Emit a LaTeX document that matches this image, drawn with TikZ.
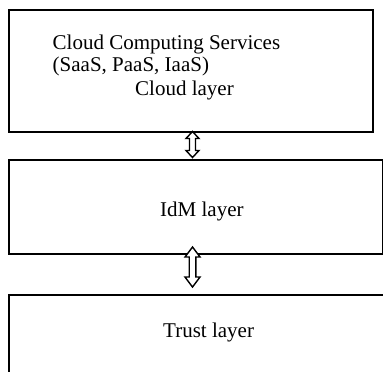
\documentclass[tikz,border=0pt]{standalone}
\usepackage{fontspec}
\setmainfont{Liberation Serif}
\usetikzlibrary{calc}
\tikzset{
  layerbox/.style={draw=black, line width=2pt, fill=none, inner sep=0pt, anchor=north west},
  txt/.style={inner sep=0pt, anchor=base west, font=\fontsize{21}{23}\selectfont},
  dblarrow/.style={draw=black, fill=white, line width=1.4pt, line join=miter}
}
\begin{document}
\begin{tikzpicture}[x=1pt,y=-1pt]
\useasboundingbox (0,0) rectangle (383,372);
\fill[white] (0,0) rectangle (383,372);
% boxes
\node[layerbox, minimum width=364pt, minimum height=121.5pt] (b1) at (8,9) {};
\node[layerbox, minimum width=373.5pt, minimum height=94.5pt] (b2) at (8,158.5) {};
\node[layerbox, minimum width=400pt, minimum height=120pt] (b3) at (8,293.5) {};
% texts
\node[txt] (t1) at (52.5,49) {Cloud Computing Services};
\node[txt] (t2) at (52.5,71.7) {(SaaS, PaaS, IaaS)};
\node[txt] (t3) at (135,95) {Cloud layer};
\node[txt] (t4) at (160,216) {IdM layer};
\node[txt] (t5) at (163,337) {Trust layer};
% arrow 1
\coordinate (a1t) at ($(b1.south west)+(184.5,-1)$);
\coordinate (a1b) at ($(b2.north west)+(184.5,-1)$);
\draw[dblarrow] (a1t) -- ($(a1t)+(6.5,7)$) -- ($(a1t)+(3,7)$) -- ($(a1b)+(3,-7)$) -- ($(a1b)+(6.5,-7)$) -- (a1b)
  -- ($(a1b)+(-6.5,-7)$) -- ($(a1b)+(-3,-7)$) -- ($(a1t)+(-3,7)$) -- ($(a1t)+(-6.5,7)$) -- cycle;
% arrow 2
\coordinate (a2t) at ($(b2.south west)+(184.5,-8)$);
\coordinate (a2b) at ($(b3.north west)+(184.5,-6.5)$);
\draw[dblarrow] (a2t) -- ($(a2t)+(7.5,10)$) -- ($(a2t)+(3.3,10)$) -- ($(a2b)+(3.3,-10)$) -- ($(a2b)+(7.5,-10)$) -- (a2b)
  -- ($(a2b)+(-7.5,-10)$) -- ($(a2b)+(-3.3,-10)$) -- ($(a2t)+(-3.3,10)$) -- ($(a2t)+(-7.5,10)$) -- cycle;
\end{tikzpicture}
\end{document}
